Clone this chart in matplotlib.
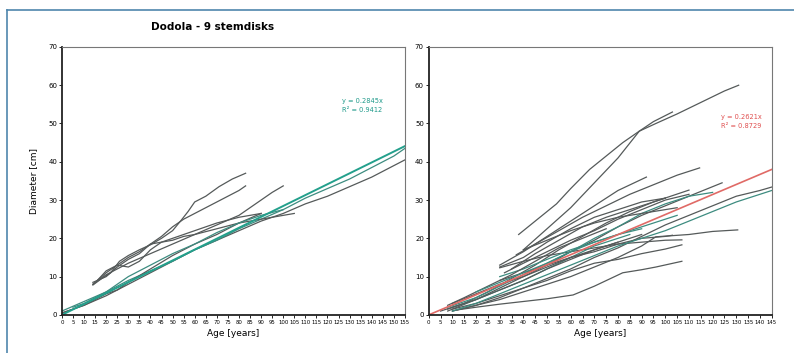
import matplotlib
matplotlib.use("Agg")
from matplotlib import pyplot as plt
from matplotlib.lines import Line2D

# left panel: Dodola, 9 stem disks (age in years, diameter in cm)
left_ages = [
    [0, 10, 20, 30, 40, 50, 60, 70, 80, 90, 100, 110, 120, 130, 140, 150, 155],
    [0, 10, 20, 30, 40, 50, 60, 70, 80, 90, 100, 110, 120, 130, 140, 150, 155],
    [14, 18, 22, 26, 30, 35, 40, 45, 50, 54, 57, 60, 65, 71, 77, 83],
    [14, 20, 25, 30, 35, 40, 45, 50, 55, 60, 65, 70, 75, 80, 83],
    [14, 20, 25, 30, 40, 50, 60, 70, 80, 85, 90, 95, 100],
    [0, 10, 15, 20, 25, 30, 40, 50, 60, 70, 80, 90],
    [14, 20, 25, 30, 35, 40, 45, 50, 55, 60, 70, 80, 90, 100, 105],
    [16, 20, 25, 30, 35, 40, 45, 50, 55, 60, 65, 70, 80, 90],
    [5, 10, 15, 20, 25, 30, 40, 50, 60, 70, 80, 90, 100],
]
left_diams = [
    [0.5, 2.5, 5, 8, 11, 14, 17, 19.5, 22, 24.5, 26.5, 29, 31, 33.5, 36, 39, 40.5],
    [1, 3.5, 6, 9, 11.5, 14, 17, 19.5, 22.5, 25, 27.5, 30.5, 33, 35.5, 38.5, 41.5, 43.5],
    [7.8, 9.5, 11, 14, 15.5, 17, 18.3, 20, 22, 24.8, 27, 29.5, 31, 33.5, 35.5, 37],
    [8.5, 10, 12.5, 14.5, 16, 18.5, 20.5, 23, 25, 26.5, 28, 29.5, 31, 32.5, 33.7],
    [8, 10.5, 12, 13.5, 16, 18.5, 21, 23.5, 26, 28, 30, 32, 33.7],
    [0.5, 2.5, 4, 5.5, 6.5, 8.5, 12, 15.5, 18.5, 21, 24, 26.5],
    [8, 11, 13, 12.5, 14, 17, 19, 19.5, 20.5, 21, 22.5, 24, 25, 26, 26.5],
    [9, 11.5, 13, 15, 16.5, 18.5, 19, 20, 21, 22, 23, 24, 25.5, 26.5],
    [2, 3, 4.5, 6, 8, 10, 13, 16, 18.5, 21.5, 24, 26, 27.5],
]
left_teal = [False, True, False, False, False, False, False, False, True]
left_slope = 0.2845
left_text = "y = 0.2845x\nR² = 0.9412"

# right panel
right_ages = [
    [38, 45, 54, 60, 68, 75, 82, 89, 96, 105, 115, 125, 131],
    [40, 50, 60, 70, 80, 89, 95, 103],
    [37, 45, 55, 65, 75, 85, 95, 105, 114.5],
    [30, 40, 50, 60, 70, 80, 92],
    [8, 15, 25, 35, 45, 55, 65, 75, 85, 95, 110],
    [8, 20, 30, 40, 50, 60, 70, 80, 90, 100, 110, 124],
    [10, 20, 30, 40, 50, 60, 70, 80, 90, 100, 110, 120, 130, 140, 145],
    [12, 20, 30, 40, 50, 61, 70, 82, 90, 96, 107],
    [10, 20, 30, 40, 50, 60, 70, 80, 90, 96, 110, 120, 130.6],
    [10, 20, 30, 40, 50, 60, 70, 80, 90, 100, 107],
    [30, 40, 50, 60, 70, 80, 90, 100, 107],
    [8, 20, 30, 40, 50, 60, 70, 80, 90, 100, 110, 120],
    [10, 20, 30, 40, 50, 60, 70, 80, 85],
    [30, 40, 50, 60, 70, 80, 90, 100],
    [32, 40, 50, 60, 70, 80, 90, 100, 110],
    [30, 40, 50, 60, 70, 80, 90],
    [5, 10, 20, 30, 40, 50, 60, 70, 80, 90],
    [8, 15, 25, 35, 45, 55, 65, 75],
    [30, 40, 50, 60, 70, 80, 90, 100, 103],
    [10, 20, 30, 40, 50, 60, 70, 80, 90, 100, 110, 120, 130, 140, 145],
    [35, 45, 55, 65, 75, 85, 95, 100],
    [10, 20, 30, 40, 50, 60, 70, 80],
    [40, 50, 60, 70, 80, 90, 100, 105],
    [20, 30, 40, 50, 60, 70, 80, 90, 100, 105],
]
right_diams = [
    [21, 24.5, 29, 33, 38, 41.5, 45, 48, 50, 52.5, 55.5, 58.5, 60],
    [17, 22.5, 28, 34.5, 41, 48, 50.5, 53],
    [15.7, 18.5, 22, 25.5, 28.5, 31.5, 34, 36.5, 38.4],
    [13, 16.5, 20.5, 24.5, 28.5, 32.5, 36],
    [1.5, 3, 6, 9.5, 13, 17, 20.5, 24, 27, 29.5, 32.6],
    [1, 4, 7, 10, 13, 16.5, 19.5, 23, 26, 28.5, 31, 34.5],
    [1, 2.5, 4.5, 7, 9.5, 12, 15, 17.5, 20.5, 23.5, 26, 28.5, 31, 32.5, 33.4],
    [1.3, 2, 2.8, 3.5, 4.2, 5.2, 7.5, 11, 11.8, 12.5, 14],
    [1, 2.5, 4, 6, 8, 10, 12.5, 15, 18, 20.4, 21, 21.8, 22.2],
    [1.5, 3, 5, 7, 9, 11.5, 13.5, 14.5, 16, 17.2, 18.3],
    [12.3, 14, 15.5, 16.5, 17.5, 18.5, 19, 19.5, 19.6],
    [2, 4.5, 7.5, 10.5, 13.5, 16.5, 20, 23, 26.5, 29, 31, 32],
    [2, 4, 6.5, 9, 12, 15, 18, 20, 21],
    [12.5, 15, 19, 22.5, 25.5, 27.5, 29.5, 30.5],
    [11, 13.5, 16.5, 19.5, 22, 25, 27.5, 30, 31.5],
    [10, 12, 14.5, 17, 19, 21, 22.5],
    [1, 2, 4, 6.5, 9, 12, 14.5, 17, 19, 21],
    [2.5, 4.5, 7.5, 10.5, 14, 17.5, 20, 22.5],
    [9, 11, 13, 15, 16.5, 18.5, 20, 20.5, 20.8],
    [1, 3, 5.5, 8, 10.5, 13, 15.5, 18, 20, 22, 24.5, 27, 29.5, 31.5, 32.5],
    [12, 16, 19.5, 23, 25.5, 27.5, 29.5, 30.5],
    [3, 5.5, 8, 10, 12.5, 15, 17, 19],
    [17, 19.5, 22, 24, 25.5, 26.5, 27.5, 28],
    [6, 8.5, 11, 13.5, 16.5, 19, 21, 23, 25, 26],
]
right_teal = [False, False, False, False, False, False, False, False, False, False, False,
              True, True, False, False, True, False, False, False, True, False, False, False, True]
right_slope = 0.2621
right_text = "y = 0.2621x\nR² = 0.8729"

GREY = "#555a5a"
TEAL = "#3d8c80"


def style_axes(ax, xmax):
    ax.set_xlim(0, xmax)
    ax.set_ylim(0, 70)
    ax.set_yticks(range(0, 71, 10))
    ax.set_xticks(range(0, xmax + 1, 5))
    ax.tick_params(axis='y', labelsize=5, length=2, width=0.6, pad=1.5)
    ax.tick_params(axis='x', labelsize=3.9, length=2, width=0.6, pad=1.5)
    for side in ['left', 'bottom']:
        ax.spines[side].set_linewidth(1.3)
        ax.spines[side].set_color('#222222')
    for side in ['top', 'right']:
        ax.spines[side].set_linewidth(0.8)
        ax.spines[side].set_color('#777777')
    ax.set_xlabel('Age [years]', fontsize=6.5, labelpad=3)


fig = plt.figure(figsize=(7.94, 3.53), dpi=100)

ax1 = fig.add_axes([0.078, 0.108, 0.432, 0.759])
for a, d, t in zip(left_ages, left_diams, left_teal):
    ax1.plot(a, d, color=TEAL if t else GREY, lw=0.9)
ax1.plot([0, 155], [0, left_slope * 155], color='#23a08c', lw=1.4)
style_axes(ax1, 155)
ax1.set_ylabel('Diameter [cm]', fontsize=6.5, labelpad=7)
ax1.text(0.935, 0.78, left_text, transform=ax1.transAxes, ha='right', va='center',
         fontsize=4.8, color='#1f9a8a', linespacing=1.6)

ax2 = fig.add_axes([0.540, 0.108, 0.432, 0.759])
for a, d, t in zip(right_ages, right_diams, right_teal):
    ax2.plot(a, d, color=TEAL if t else GREY, lw=0.9)
ax2.plot([0, 145], [0, right_slope * 145], color='#e06a66', lw=1.2)
style_axes(ax2, 145)
ax2.text(0.97, 0.72, right_text, transform=ax2.transAxes, ha='right', va='center',
         fontsize=4.8, color='#e05050', linespacing=1.6)

fig.text(0.268, 0.923, 'Dodola - 9 stemdisks', ha='center', va='center',
         fontsize=7.5, fontweight='bold')

# blue frame around the figure
fig.add_artist(Line2D([0.009, 1.0], [0.972, 0.972], color='#4f86ad', lw=1.2))
fig.add_artist(Line2D([0.009, 0.009], [0.0, 0.972], color='#4f86ad', lw=1.2))

plt.savefig('out.png', dpi=100)
